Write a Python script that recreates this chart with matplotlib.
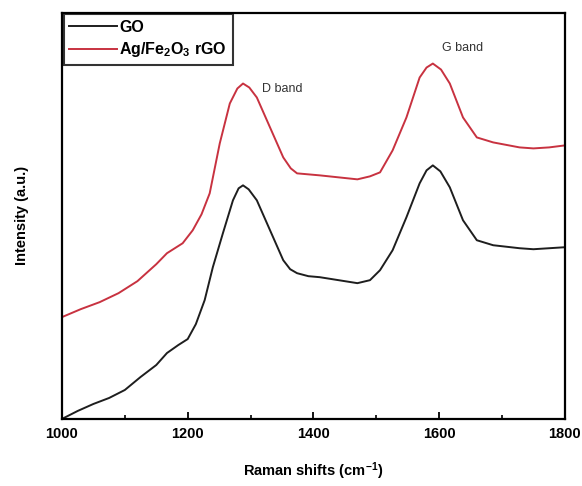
import numpy as np
import matplotlib
matplotlib.use("Agg")
import matplotlib.pyplot as plt
from matplotlib.ticker import MultipleLocator

plt.rcParams['font.family'] = ['Liberation Sans', 'DejaVu Sans']
plt.rcParams['mathtext.fontset'] = 'custom'
plt.rcParams['mathtext.rm'] = 'Liberation Sans'
plt.rcParams['mathtext.bf'] = 'Liberation Sans:bold'
plt.rcParams['mathtext.default'] = 'bf'

# Raman spectra (arbitrary units)
go_shift = [1000, 1025, 1050, 1075, 1100, 1125, 1150, 1167, 1185, 1200, 1213, 1227,
            1240, 1256, 1272, 1281, 1288, 1297, 1310, 1331, 1352, 1363, 1374, 1392,
            1410, 1440, 1470, 1490, 1506, 1526, 1548, 1569, 1580, 1590, 1602, 1617,
            1638, 1660, 1686, 1728, 1750, 1775, 1800]
go_int = [0, 8, 15, 21, 29, 42, 54, 66, 74, 80, 95, 119,
          152, 186, 219, 231, 234, 230, 219, 189, 159, 150, 146, 143,
          142, 139, 136, 139, 149, 169, 202, 236, 249, 254, 248, 232,
          199, 179, 174, 171, 170, 171, 172]

rgo_shift = [1000, 1030, 1060, 1090, 1120, 1150, 1167, 1192, 1208, 1222, 1235, 1251,
             1267, 1279, 1288, 1298, 1310, 1331, 1352, 1364, 1374, 1410, 1440, 1470,
             1490, 1506, 1526, 1548, 1569, 1580, 1590, 1603, 1617, 1638, 1660, 1686,
             1728, 1750, 1775, 1800]
rgo_int = [102, 110, 117, 126, 138, 155, 166, 176, 189, 205, 226, 276,
           316, 331, 336, 332, 322, 292, 262, 251, 246, 244, 242, 240,
           243, 247, 269, 302, 342, 352, 356, 350, 336, 302, 282, 277,
           272, 271, 272, 274]

labels = ["GO", r"Ag/Fe$_2$O$_3$ rGO"]

fig = plt.figure(figsize=(5.82, 4.86), dpi=100)
ax = fig.add_axes([0.1065, 0.138, 0.864, 0.836])

ax.plot(go_shift, go_int, color="#1e1e1e", lw=1.4, label=labels[0])
ax.plot(rgo_shift, rgo_int, color="#c83240", lw=1.4, label=labels[1])

ax.text(1318, 331, "D band", fontsize=9, color="#333333", va="center")
ax.text(1605, 372, "G band", fontsize=9, color="#333333", va="center")

ax.set_xlim(1000, 1800)
ax.set_ylim(0, 407)
ax.xaxis.set_major_locator(MultipleLocator(200))
ax.xaxis.set_minor_locator(MultipleLocator(100))
ax.tick_params(axis="x", which="major", direction="in", length=5, width=1.3,
               labelsize=10.5, pad=6)
ax.tick_params(axis="x", which="minor", direction="in", length=3, width=1.2)
ax.set_yticks([])
for lbl in ax.get_xticklabels():
    lbl.set_fontweight("bold")
for sp in ax.spines.values():
    sp.set_linewidth(1.6)

ax.set_xlabel(r"Raman shifts (cm$^{-1}$)", fontsize=10.5, fontweight="bold", labelpad=14)
ax.set_ylabel("Intensity (a.u.)", fontsize=10.5, fontweight="bold", labelpad=24)

leg = ax.legend(loc="upper left", borderaxespad=0.1, fancybox=False, handlelength=3.0,
                handletextpad=0.15, prop={"weight": "bold", "size": 11.5},
                labelspacing=0.35, borderpad=0.35)
leg.get_frame().set_edgecolor("black")
leg.get_frame().set_linewidth(1.5)

fig.savefig("out.png", dpi=100)
